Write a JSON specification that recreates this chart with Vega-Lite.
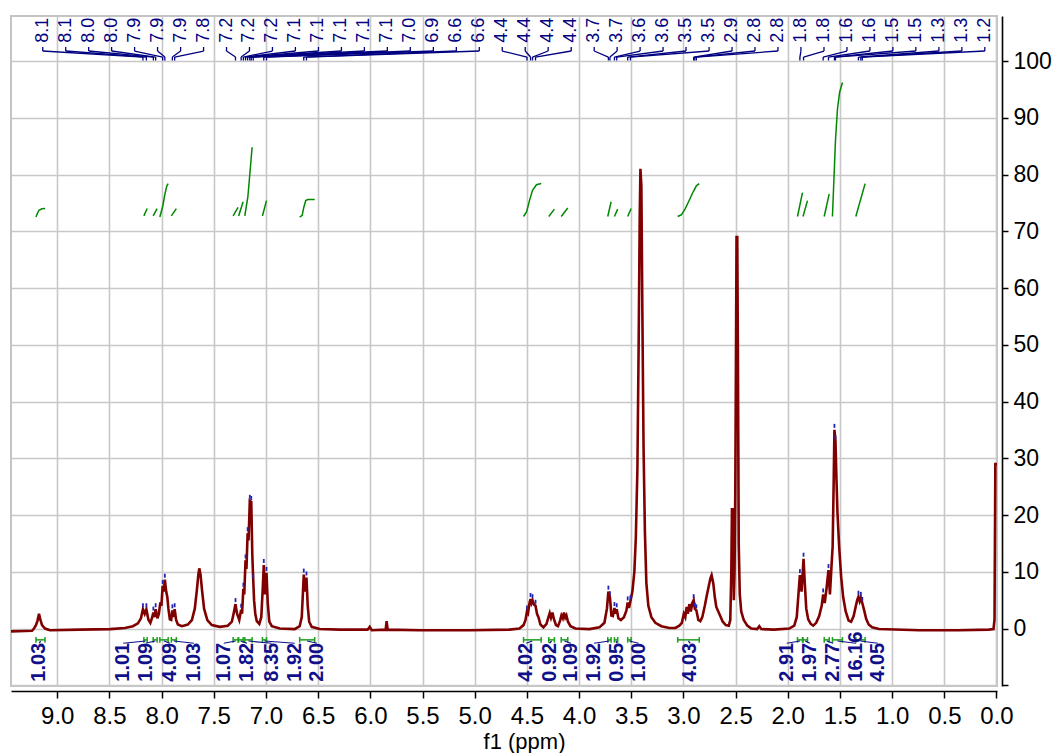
{
  "$schema": "https://vega.github.io/schema/vega-lite/v6.json",
  "width": 986,
  "height": 670,
  "autosize": "none",
  "padding": {"left": 11, "top": 16, "right": 62, "bottom": 67},
  "background": "white",
  "config": {"view": {"stroke": "#c4c4c4", "strokeWidth": 2}},
  "datasets": {
    "spec": [
      {"ppm":9.443,"v":-0.5},{"ppm":9.309,"v":-0.45},{"ppm":9.242,"v":-0.4},{"ppm":9.223,"v":0.0},{"ppm":9.204,"v":0.6},{"ppm":9.189,"v":1.4},{"ppm":9.175,"v":2.6},{"ppm":9.161,"v":1.5},{"ppm":9.146,"v":0.6},{"ppm":9.117,"v":0.0},{"ppm":9.070,"v":-0.3},{"ppm":8.782,"v":-0.2},{"ppm":8.495,"v":-0.1},{"ppm":8.352,"v":0.1},{"ppm":8.275,"v":0.4},{"ppm":8.227,"v":0.9},{"ppm":8.198,"v":1.8},{"ppm":8.179,"v":3.4},{"ppm":8.162,"v":2.6},{"ppm":8.146,"v":3.4},{"ppm":8.127,"v":1.6},{"ppm":8.108,"v":1.0},{"ppm":8.093,"v":1.8},{"ppm":8.079,"v":2.8},{"ppm":8.069,"v":2.0},{"ppm":8.057,"v":3.4},{"ppm":8.040,"v":1.8},{"ppm":8.026,"v":2.6},{"ppm":8.012,"v":4.6},{"ppm":8.002,"v":4.0},{"ppm":7.990,"v":7.5},{"ppm":7.980,"v":6.5},{"ppm":7.969,"v":8.6},{"ppm":7.956,"v":6.5},{"ppm":7.945,"v":5.5},{"ppm":7.935,"v":3.5},{"ppm":7.921,"v":1.6},{"ppm":7.908,"v":1.5},{"ppm":7.897,"v":3.2},{"ppm":7.887,"v":2.0},{"ppm":7.875,"v":3.4},{"ppm":7.861,"v":1.5},{"ppm":7.844,"v":0.7},{"ppm":7.806,"v":0.4},{"ppm":7.749,"v":0.7},{"ppm":7.710,"v":1.5},{"ppm":7.682,"v":3.5},{"ppm":7.662,"v":6.8},{"ppm":7.648,"v":9.5},{"ppm":7.639,"v":10.6},{"ppm":7.627,"v":9.5},{"ppm":7.613,"v":6.8},{"ppm":7.593,"v":3.5},{"ppm":7.562,"v":1.5},{"ppm":7.519,"v":0.6},{"ppm":7.442,"v":0.3},{"ppm":7.366,"v":0.5},{"ppm":7.327,"v":1.2},{"ppm":7.308,"v":2.8},{"ppm":7.292,"v":4.3},{"ppm":7.277,"v":2.6},{"ppm":7.256,"v":1.5},{"ppm":7.238,"v":3.3},{"ppm":7.229,"v":2.6},{"ppm":7.217,"v":7.0},{"ppm":7.208,"v":6.0},{"ppm":7.196,"v":12.0},{"ppm":7.187,"v":10.5},{"ppm":7.176,"v":16.8},{"ppm":7.167,"v":15.5},{"ppm":7.155,"v":22.5},{"ppm":7.141,"v":22.3},{"ppm":7.131,"v":13},{"ppm":7.122,"v":8.5},{"ppm":7.114,"v":5.0},{"ppm":7.102,"v":2.5},{"ppm":7.088,"v":1.3},{"ppm":7.064,"v":0.8},{"ppm":7.045,"v":2.0},{"ppm":7.031,"v":7.0},{"ppm":7.021,"v":11.2},{"ppm":7.009,"v":6.0},{"ppm":6.995,"v":9.8},{"ppm":6.983,"v":4.5},{"ppm":6.968,"v":1.2},{"ppm":6.944,"v":0.4},{"ppm":6.868,"v":0.0},{"ppm":6.724,"v":-0.1},{"ppm":6.677,"v":0.4},{"ppm":6.657,"v":2.0},{"ppm":6.648,"v":5.5},{"ppm":6.638,"v":9.5},{"ppm":6.626,"v":6.5},{"ppm":6.612,"v":9.0},{"ppm":6.600,"v":4.0},{"ppm":6.586,"v":1.2},{"ppm":6.562,"v":0.3},{"ppm":6.485,"v":-0.1},{"ppm":6.294,"v":-0.2},{"ppm":6.026,"v":-0.2},{"ppm":6.006,"v":0.3},{"ppm":5.987,"v":-0.3},{"ppm":5.853,"v":-0.2},{"ppm":5.844,"v":1.3},{"ppm":5.834,"v":-0.2},{"ppm":5.528,"v":-0.3},{"ppm":5.049,"v":-0.3},{"ppm":4.666,"v":-0.2},{"ppm":4.571,"v":0.0},{"ppm":4.532,"v":0.6},{"ppm":4.513,"v":1.5},{"ppm":4.499,"v":3.0},{"ppm":4.489,"v":2.7},{"ppm":4.475,"v":4.5},{"ppm":4.465,"v":5.2},{"ppm":4.456,"v":4.5},{"ppm":4.446,"v":5.0},{"ppm":4.432,"v":4.2},{"ppm":4.417,"v":4.0},{"ppm":4.403,"v":2.6},{"ppm":4.389,"v":2.0},{"ppm":4.370,"v":0.7},{"ppm":4.341,"v":0.2},{"ppm":4.312,"v":0.8},{"ppm":4.293,"v":2.0},{"ppm":4.281,"v":2.7},{"ppm":4.269,"v":1.9},{"ppm":4.255,"v":2.8},{"ppm":4.240,"v":1.6},{"ppm":4.221,"v":0.6},{"ppm":4.202,"v":0.4},{"ppm":4.183,"v":1.3},{"ppm":4.169,"v":2.3},{"ppm":4.156,"v":1.8},{"ppm":4.145,"v":2.8},{"ppm":4.132,"v":1.9},{"ppm":4.121,"v":2.3},{"ppm":4.106,"v":1.2},{"ppm":4.082,"v":0.4},{"ppm":4.035,"v":0.0},{"ppm":3.901,"v":-0.1},{"ppm":3.805,"v":0.2},{"ppm":3.757,"v":1.0},{"ppm":3.733,"v":3.5},{"ppm":3.719,"v":6.5},{"ppm":3.704,"v":5.5},{"ppm":3.690,"v":2.3},{"ppm":3.676,"v":2.2},{"ppm":3.661,"v":3.6},{"ppm":3.650,"v":2.6},{"ppm":3.639,"v":3.4},{"ppm":3.623,"v":1.8},{"ppm":3.599,"v":1.5},{"ppm":3.570,"v":2.0},{"ppm":3.546,"v":3.2},{"ppm":3.534,"v":4.6},{"ppm":3.522,"v":3.6},{"ppm":3.508,"v":4.8},{"ppm":3.489,"v":6.5},{"ppm":3.470,"v":10},{"ppm":3.456,"v":16},{"ppm":3.441,"v":28},{"ppm":3.429,"v":50},{"ppm":3.419,"v":72},{"ppm":3.412,"v":81},{"ppm":3.403,"v":78},{"ppm":3.393,"v":55},{"ppm":3.382,"v":32},{"ppm":3.369,"v":17},{"ppm":3.355,"v":8},{"ppm":3.336,"v":4},{"ppm":3.307,"v":2},{"ppm":3.269,"v":1},{"ppm":3.211,"v":0.4},{"ppm":3.135,"v":0.1},{"ppm":3.077,"v":0.1},{"ppm":3.039,"v":0.5},{"ppm":3.015,"v":1.0},{"ppm":2.996,"v":2.6},{"ppm":2.982,"v":2.0},{"ppm":2.969,"v":3.8},{"ppm":2.958,"v":2.6},{"ppm":2.943,"v":4.3},{"ppm":2.929,"v":3.0},{"ppm":2.915,"v":4.5},{"ppm":2.902,"v":5.0},{"ppm":2.891,"v":3.5},{"ppm":2.876,"v":3.2},{"ppm":2.857,"v":1.5},{"ppm":2.838,"v":1.3},{"ppm":2.819,"v":2.0},{"ppm":2.795,"v":4.0},{"ppm":2.776,"v":5.8},{"ppm":2.757,"v":7.5},{"ppm":2.742,"v":8.8},{"ppm":2.730,"v":9.4},{"ppm":2.714,"v":8.0},{"ppm":2.699,"v":5.5},{"ppm":2.685,"v":3.8},{"ppm":2.666,"v":3.0},{"ppm":2.647,"v":2.2},{"ppm":2.623,"v":1.2},{"ppm":2.594,"v":0.6},{"ppm":2.565,"v":0.5},{"ppm":2.551,"v":1.5},{"ppm":2.541,"v":10},{"ppm":2.535,"v":21},{"ppm":2.525,"v":21},{"ppm":2.517,"v":5},{"ppm":2.510,"v":10},{"ppm":2.503,"v":24},{"ppm":2.496,"v":50},{"ppm":2.491,"v":69},{"ppm":2.484,"v":69},{"ppm":2.477,"v":45},{"ppm":2.470,"v":15},{"ppm":2.460,"v":6},{"ppm":2.446,"v":3},{"ppm":2.422,"v":1.5},{"ppm":2.388,"v":0.5},{"ppm":2.350,"v":0.0},{"ppm":2.293,"v":-0.1},{"ppm":2.273,"v":0.4},{"ppm":2.254,"v":-0.1},{"ppm":2.130,"v":-0.2},{"ppm":1.986,"v":0.0},{"ppm":1.938,"v":0.5},{"ppm":1.914,"v":2.0},{"ppm":1.900,"v":5.5},{"ppm":1.884,"v":9.4},{"ppm":1.868,"v":6.5},{"ppm":1.849,"v":12.3},{"ppm":1.837,"v":8.0},{"ppm":1.823,"v":3.5},{"ppm":1.804,"v":1.6},{"ppm":1.780,"v":0.8},{"ppm":1.756,"v":0.5},{"ppm":1.728,"v":1.0},{"ppm":1.699,"v":2.2},{"ppm":1.675,"v":4.0},{"ppm":1.661,"v":6.0},{"ppm":1.646,"v":4.5},{"ppm":1.629,"v":7.0},{"ppm":1.610,"v":10.3},{"ppm":1.596,"v":6.0},{"ppm":1.581,"v":11},{"ppm":1.570,"v":14.5},{"ppm":1.560,"v":26},{"ppm":1.553,"v":35},{"ppm":1.543,"v":33},{"ppm":1.533,"v":26},{"ppm":1.524,"v":20.5},{"ppm":1.508,"v":14.5},{"ppm":1.488,"v":9},{"ppm":1.469,"v":5.5},{"ppm":1.445,"v":3},{"ppm":1.417,"v":1.4},{"ppm":1.393,"v":1.2},{"ppm":1.369,"v":2.2},{"ppm":1.350,"v":3.8},{"ppm":1.335,"v":5.0},{"ppm":1.323,"v":5.6},{"ppm":1.311,"v":4.8},{"ppm":1.300,"v":5.4},{"ppm":1.286,"v":4.5},{"ppm":1.268,"v":3.2},{"ppm":1.249,"v":1.7},{"ppm":1.225,"v":0.7},{"ppm":1.192,"v":0.2},{"ppm":1.125,"v":-0.1},{"ppm":0.742,"v":-0.3},{"ppm":0.359,"v":-0.3},{"ppm":0.072,"v":-0.2},{"ppm":0.029,"v":-0.1},{"ppm":0.019,"v":1.5},{"ppm":0.011,"v":29},{"ppm":0.005,"v":29},{"ppm":-0.005,"v":29}
    ],
    "integ": [
      {"id":1,"ppm":9.204,"v":72.5},{"id":1,"ppm":9.189,"v":73.2},{"id":1,"ppm":9.175,"v":73.7},{"id":1,"ppm":9.146,"v":73.95},{"id":1,"ppm":9.117,"v":74.0},
      {"id":2,"ppm":8.170,"v":72.7},{"id":2,"ppm":8.138,"v":74.0},
      {"id":3,"ppm":8.081,"v":72.7},{"id":3,"ppm":8.043,"v":74.0},
      {"id":4,"ppm":8.017,"v":72.5},{"id":4,"ppm":7.988,"v":74.5},{"id":4,"ppm":7.969,"v":76.5},{"id":4,"ppm":7.950,"v":78.0},{"id":4,"ppm":7.937,"v":78.4},
      {"id":5,"ppm":7.907,"v":72.7},{"id":5,"ppm":7.859,"v":74.0},
      {"id":6,"ppm":7.315,"v":72.7},{"id":6,"ppm":7.267,"v":74.2},
      {"id":7,"ppm":7.262,"v":72.7},{"id":7,"ppm":7.219,"v":75.2},
      {"id":8,"ppm":7.203,"v":72.7},{"id":8,"ppm":7.174,"v":76},{"id":8,"ppm":7.155,"v":80},{"id":8,"ppm":7.133,"v":84.8},
      {"id":9,"ppm":7.034,"v":72.7},{"id":9,"ppm":6.995,"v":75.4},
      {"id":10,"ppm":6.677,"v":72.5},{"id":10,"ppm":6.653,"v":72.8},{"id":10,"ppm":6.638,"v":74.2},{"id":10,"ppm":6.619,"v":75.4},{"id":10,"ppm":6.600,"v":75.6},{"id":10,"ppm":6.533,"v":75.6},
      {"id":11,"ppm":4.532,"v":72.6},{"id":11,"ppm":4.503,"v":73.4},{"id":11,"ppm":4.475,"v":75.4},{"id":11,"ppm":4.446,"v":77.2},{"id":11,"ppm":4.408,"v":78.2},{"id":11,"ppm":4.363,"v":78.4},
      {"id":12,"ppm":4.290,"v":72.6},{"id":12,"ppm":4.236,"v":73.9},
      {"id":13,"ppm":4.171,"v":72.6},{"id":13,"ppm":4.108,"v":74.1},
      {"id":14,"ppm":3.725,"v":72.6},{"id":14,"ppm":3.693,"v":75.2},
      {"id":15,"ppm":3.661,"v":72.6},{"id":15,"ppm":3.630,"v":73.9},
      {"id":16,"ppm":3.534,"v":72.6},{"id":16,"ppm":3.501,"v":74.0},
      {"id":17,"ppm":3.055,"v":72.6},{"id":17,"ppm":3.020,"v":72.9},{"id":17,"ppm":2.982,"v":74.0},{"id":17,"ppm":2.943,"v":75.5},{"id":17,"ppm":2.905,"v":77.0},{"id":17,"ppm":2.876,"v":78.0},{"id":17,"ppm":2.848,"v":78.4},
      {"id":18,"ppm":1.907,"v":72.6},{"id":18,"ppm":1.859,"v":76.8},
      {"id":19,"ppm":1.854,"v":72.6},{"id":19,"ppm":1.811,"v":75.4},
      {"id":20,"ppm":1.651,"v":72.6},{"id":20,"ppm":1.603,"v":76.6},
      {"id":21,"ppm":1.572,"v":72.6},{"id":21,"ppm":1.543,"v":86},{"id":21,"ppm":1.524,"v":91.5},{"id":21,"ppm":1.503,"v":94.5},{"id":21,"ppm":1.476,"v":96.2},
      {"id":22,"ppm":1.348,"v":72.6},{"id":22,"ppm":1.259,"v":78.4}
    ],
    "ranges": [
      {"label":"1.03","lx":9.172,"a":9.204,"b":9.117,"c":9.160},
      {"label":"1.01","lx":8.368,"a":8.170,"b":8.138,"c":8.154},
      {"label":"1.09","lx":8.153,"a":8.081,"b":8.043,"c":8.062},
      {"label":"4.09","lx":7.921,"a":8.017,"b":7.937,"c":7.977},
      {"label":"1.03","lx":7.691,"a":7.907,"b":7.859,"c":7.883},
      {"label":"1.07","lx":7.404,"a":7.315,"b":7.267,"c":7.291},
      {"label":"1.82","lx":7.181,"a":7.262,"b":7.219,"c":7.243},
      {"label":"8.35","lx":6.947,"a":7.203,"b":7.133,"c":7.168},
      {"label":"1.92","lx":6.724,"a":7.034,"b":6.995,"c":7.015},
      {"label":"2.00","lx":6.511,"a":6.677,"b":6.533,"c":6.605},
      {"label":"4.02","lx":4.506,"a":4.532,"b":4.363,"c":4.448},
      {"label":"0.92","lx":4.283,"a":4.290,"b":4.236,"c":4.263},
      {"label":"1.09","lx":4.079,"a":4.171,"b":4.108,"c":4.140},
      {"label":"1.92","lx":3.857,"a":3.725,"b":3.693,"c":3.709},
      {"label":"0.95","lx":3.634,"a":3.661,"b":3.630,"c":3.646},
      {"label":"1.00","lx":3.429,"a":3.534,"b":3.501,"c":3.518},
      {"label":"4.03","lx":2.934,"a":3.055,"b":2.848,"c":2.952},
      {"label":"2.91","lx":2.010,"a":1.907,"b":1.859,"c":1.883},
      {"label":"1.97","lx":1.788,"a":1.854,"b":1.811,"c":1.833},
      {"label":"2.77","lx":1.565,"a":1.651,"b":1.603,"c":1.627},
      {"label":"16.16","lx":1.345,"a":1.572,"b":1.476,"c":1.524},
      {"label":"4.05","lx":1.138,"a":1.348,"b":1.259,"c":1.304}
    ],
    "peaks": [
      {"label":"8.1","lx":9.139,"px":8.179,"pv":3.4},
      {"label":"8.1","lx":8.919,"px":8.146,"pv":3.4},
      {"label":"8.0","lx":8.699,"px":8.079,"pv":2.8},
      {"label":"8.0","lx":8.479,"px":8.057,"pv":3.4},
      {"label":"7.9","lx":8.259,"px":7.990,"pv":7.5},
      {"label":"7.9","lx":8.039,"px":7.969,"pv":8.6},
      {"label":"7.9","lx":7.818,"px":7.897,"pv":3.2},
      {"label":"7.8","lx":7.598,"px":7.875,"pv":3.4},
      {"label":"7.2","lx":7.378,"px":7.292,"pv":4.3},
      {"label":"7.2","lx":7.158,"px":7.238,"pv":3.3},
      {"label":"7.2","lx":6.938,"px":7.217,"pv":7.0},
      {"label":"7.1","lx":6.718,"px":7.196,"pv":12.0},
      {"label":"7.1","lx":6.497,"px":7.176,"pv":16.8},
      {"label":"7.1","lx":6.277,"px":7.155,"pv":22.5},
      {"label":"7.1","lx":6.057,"px":7.141,"pv":22.3},
      {"label":"7.1","lx":5.837,"px":7.122,"pv":8.5},
      {"label":"7.0","lx":5.617,"px":7.021,"pv":11.2},
      {"label":"6.9","lx":5.396,"px":6.995,"pv":9.8},
      {"label":"6.6","lx":5.176,"px":6.638,"pv":9.5},
      {"label":"6.6","lx":4.956,"px":6.612,"pv":9.0},
      {"label":"4.4","lx":4.736,"px":4.499,"pv":3.0},
      {"label":"4.4","lx":4.516,"px":4.465,"pv":5.2},
      {"label":"4.4","lx":4.296,"px":4.446,"pv":5.0},
      {"label":"4.4","lx":4.075,"px":4.417,"pv":4.0},
      {"label":"3.7","lx":3.855,"px":3.719,"pv":6.5},
      {"label":"3.7","lx":3.635,"px":3.704,"pv":5.5},
      {"label":"3.6","lx":3.415,"px":3.661,"pv":3.6},
      {"label":"3.6","lx":3.195,"px":3.639,"pv":3.4},
      {"label":"3.5","lx":2.975,"px":3.534,"pv":4.6},
      {"label":"3.5","lx":2.754,"px":3.508,"pv":4.8},
      {"label":"2.9","lx":2.534,"px":2.902,"pv":5.0},
      {"label":"2.8","lx":2.314,"px":2.891,"pv":3.5},
      {"label":"2.8","lx":2.094,"px":2.876,"pv":3.2},
      {"label":"1.8","lx":1.874,"px":1.884,"pv":9.4},
      {"label":"1.8","lx":1.653,"px":1.849,"pv":12.3},
      {"label":"1.6","lx":1.433,"px":1.661,"pv":6.0},
      {"label":"1.6","lx":1.213,"px":1.610,"pv":10.3},
      {"label":"1.5","lx":0.993,"px":1.553,"pv":35},
      {"label":"1.5","lx":0.773,"px":1.543,"pv":33},
      {"label":"1.3","lx":0.552,"px":1.323,"pv":5.6},
      {"label":"1.3","lx":0.332,"px":1.300,"pv":5.4},
      {"label":"1.2","lx":0.112,"px":1.286,"pv":4.5}
    ]
  },
  "layer": [
    {
      "data": {"name": "spec"},
      "mark": {"type": "line", "color": "#800000", "strokeWidth": 2.6, "clip": true},
      "encoding": {
        "x": {
          "field": "ppm", "type": "quantitative",
          "scale": {"domain": [-0.0048, 9.4432], "reverse": true, "nice": false, "zero": false},
          "axis": {
            "orient": "bottom", "offset": 5, "title": "f1 (ppm)",
            "values": [0,0.25,0.5,0.75,1,1.25,1.5,1.75,2,2.25,2.5,2.75,3,3.25,3.5,3.75,4,4.25,4.5,4.75,5,5.25,5.5,5.75,6,6.25,6.5,6.75,7,7.25,7.5,7.75,8,8.25,8.5,8.75,9,9.25],
            "labelExpr": "abs(datum.value*2 - round(datum.value*2)) < 0.01 ? format(datum.value, '.1f') : ''",
            "tickSize": {"condition": {"test": "abs(datum.value*2 - round(datum.value*2)) < 0.01", "value": 7}, "value": 4},
            "grid": true,
            "gridOpacity": {"condition": {"test": "abs(datum.value*2 - round(datum.value*2)) < 0.01", "value": 1}, "value": 0},
            "gridColor": "#c8c8c8", "gridWidth": 1.6,
            "domainColor": "#000000", "domainWidth": 1.6, "tickColor": "#000000", "tickWidth": 1.5,
            "labelFont": "Liberation Sans", "labelFontSize": 24, "labelColor": "#000000",
            "labelPadding": 6, "labelDx": 10, "labelOverlap": false, "labelFlush": false, "labelBound": false,
            "titleFont": "Liberation Sans", "titleFontSize": 22, "titleFontWeight": "normal", "titleColor": "#000000",
            "titleX": 513, "titleY": 57, "titleBaseline": "alphabetic", "titleAlign": "center"
          }
        },
        "y": {
          "field": "v", "type": "quantitative",
          "scale": {"domain": [-10.13, 107.93], "nice": false, "zero": false},
          "axis": {
            "orient": "right", "offset": 5, "title": null,
            "values": [-10,-5,0,5,10,15,20,25,30,35,40,45,50,55,60,65,70,75,80,85,90,95,100,105],
            "labelExpr": "datum.value >= 0 && datum.value <= 100 && datum.value % 10 == 0 ? format(datum.value, 'd') : ''",
            "tickSize": {"condition": {"test": "datum.value % 10 == 0", "value": 6}, "value": 4},
            "grid": true,
            "gridOpacity": {"condition": {"test": "datum.value % 10 == 0", "value": 1}, "value": 0},
            "gridColor": "#c8c8c8", "gridWidth": 1.6,
            "domainColor": "#000000", "domainWidth": 1.6, "tickColor": "#000000", "tickWidth": 1.5,
            "labelFont": "Liberation Sans", "labelFontSize": 23, "labelColor": "#000000",
            "labelPadding": 5, "labelAlign": "left", "labelBaseline": "middle", "labelOverlap": false, "labelFlush": false, "labelBound": false
          }
        }
      }
    },
    {
      "data": {"name": "integ"},
      "mark": {"type": "line", "color": "#008800", "strokeWidth": 1.5},
      "encoding": {
        "x": {"field": "ppm", "type": "quantitative"},
        "y": {"field": "v", "type": "quantitative"},
        "detail": {"field": "id"}
      }
    },
    {
      "data": {"name": "ranges"},
      "mark": {"type": "rule", "color": "#1aa01a", "strokeWidth": 1.5},
      "encoding": {
        "x": {"field": "a", "type": "quantitative"},
        "x2": {"field": "b"},
        "y": {"datum": -2.0, "type": "quantitative"}
      }
    },
    {
      "data": {"name": "ranges"},
      "mark": {"type": "rule", "color": "#1aa01a", "strokeWidth": 1.5},
      "encoding": {
        "x": {"field": "a", "type": "quantitative"},
        "y": {"datum": -1.5, "type": "quantitative"},
        "y2": {"datum": -2.5}
      }
    },
    {
      "data": {"name": "ranges"},
      "mark": {"type": "rule", "color": "#1aa01a", "strokeWidth": 1.5},
      "encoding": {
        "x": {"field": "b", "type": "quantitative"},
        "y": {"datum": -1.5, "type": "quantitative"},
        "y2": {"datum": -2.5}
      }
    },
    {
      "data": {"name": "ranges"},
      "mark": {"type": "rule", "color": "#10108a", "strokeWidth": 1.2},
      "encoding": {
        "x": {"field": "lx", "type": "quantitative"},
        "x2": {"field": "c"},
        "y": {"datum": -2.6, "type": "quantitative"},
        "y2": {"datum": -2.2}
      }
    },
    {
      "data": {"name": "ranges"},
      "mark": {"type": "text", "angle": 270, "align": "left", "baseline": "middle", "font": "Liberation Sans", "fontSize": 20, "fontWeight": "bold", "color": "#10108a"},
      "encoding": {
        "x": {"field": "lx", "type": "quantitative"},
        "y": {"datum": -9.37, "type": "quantitative"},
        "text": {"field": "label"}
      }
    },
    {
      "data": {"name": "peaks"},
      "mark": {"type": "rule", "color": "#2424b4", "strokeWidth": 1.8, "yOffset": -2, "y2Offset": -6},
      "encoding": {
        "x": {"field": "px", "type": "quantitative"},
        "y": {"field": "pv", "type": "quantitative"},
        "y2": {"field": "pv"}
      }
    },
    {
      "data": {"name": "peaks"},
      "mark": {"type": "rule", "color": "#000080", "strokeWidth": 1.3},
      "encoding": {
        "x": {"field": "lx", "type": "quantitative"},
        "y": {"datum": 102.47, "type": "quantitative"},
        "y2": {"datum": 101.76}
      }
    },
    {
      "data": {"name": "peaks"},
      "mark": {"type": "rule", "color": "#000080", "strokeWidth": 1.3},
      "encoding": {
        "x": {"field": "lx", "type": "quantitative"},
        "x2": {"field": "px"},
        "y": {"datum": 101.76, "type": "quantitative"},
        "y2": {"datum": 100.7}
      }
    },
    {
      "data": {"name": "peaks"},
      "mark": {"type": "rule", "color": "#000080", "strokeWidth": 1.3},
      "encoding": {
        "x": {"field": "px", "type": "quantitative"},
        "y": {"datum": 100.7, "type": "quantitative"},
        "y2": {"datum": 100.1}
      }
    },
    {
      "data": {"name": "peaks"},
      "mark": {"type": "text", "angle": 270, "align": "left", "baseline": "middle", "font": "Liberation Sans", "fontSize": 18, "color": "#000080"},
      "encoding": {
        "x": {"field": "lx", "type": "quantitative"},
        "y": {"datum": 103.2, "type": "quantitative"},
        "text": {"field": "label"}
      }
    }
  ]
}
